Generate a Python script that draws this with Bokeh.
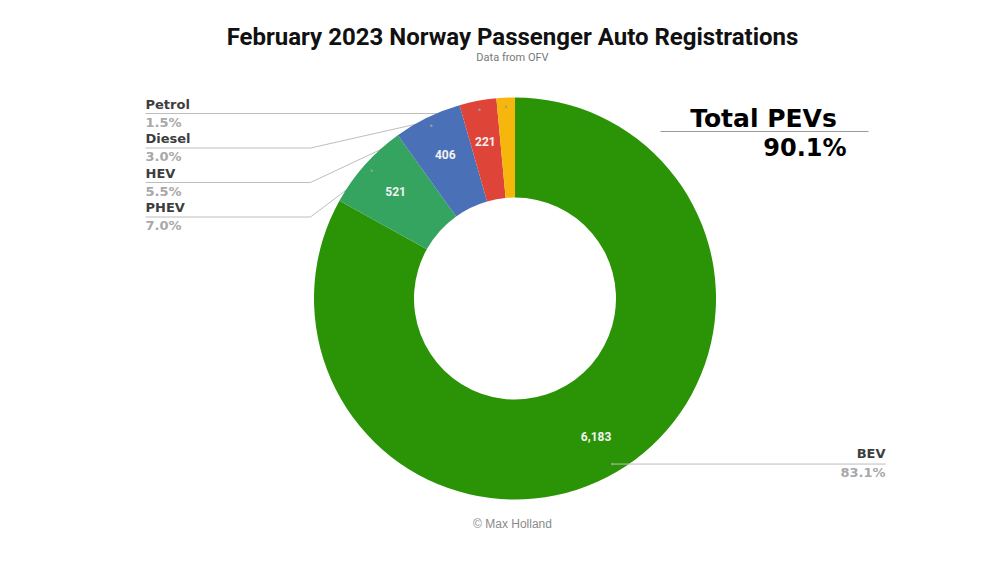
import numpy as np
from bokeh.plotting import figure
from bokeh.models import Range1d, ColumnDataSource, Label
from bokeh.embed import file_html
from bokeh.resources import INLINE
from bokeh.core.properties import value

# ---- data ----
categories = ["BEV", "PHEV", "HEV", "Diesel", "Petrol"]
counts = [6183, 521, 406, 221, 110]
colors = ["#2a9406", "#35a460", "#4a71b7", "#de4538", "#f7b60b"]
pct_labels = ["83.1%", "7.0%", "5.5%", "3.0%", "1.5%"]
inner_labels = ["6,183", "521", "406", "221", ""]
title = "February 2023 Norway Passenger Auto Registrations"
subtitle = "Data from OFV"
credit = "\u00a9 Max Holland"
total_title = "Total PEVs"
total_value = "90.1%"

# ---- layout (screen coords, y from top) ----
W, H = 984, 547
def Y(sy):
    return 563 - sy

p = figure(width=W, height=H, x_range=Range1d(0, 984), y_range=Range1d(16, 563),
           output_backend="svg", toolbar_location=None, min_border=0)
p.axis.visible = False
p.grid.visible = False
p.outline_line_color = None
p.background_fill_color = "white"

cx, cy = 514.5, Y(298)
r_out, r_in = 201, 101

vals = np.array(counts, dtype=float)
frac = vals / vals.sum()
cum = np.concatenate([[0], np.cumsum(frac)])
start = np.pi / 2 - 2 * np.pi * cum[:-1]
end = np.pi / 2 - 2 * np.pi * cum[1:]
mid = (start + end) / 2

# leader lines for small slices (drawn under wedges)
left_order = ["Petrol", "Diesel", "HEV", "PHEV"]
elbows = [440, 310, 310, 310]
r_dot = 192
dot_x = cx + r_dot * np.cos(mid)
dot_y = cy + r_dot * np.sin(mid)
xs_l, ys_l = [], []
for k, name in enumerate(left_order):
    j = categories.index(name)
    ly = Y(113 + 34.5 * k)
    xs_l.append([145, elbows[k], dot_x[j]])
    ys_l.append([ly, ly, dot_y[j]])
p.multi_line(xs_l, ys_l, line_color="#bdbdbd", line_width=1)

src = ColumnDataSource(dict(start=start, end=end, color=colors))
p.annular_wedge(x=cx, y=cy, inner_radius=r_in, outer_radius=r_out,
                start_angle="start", end_angle="end", direction="clock",
                fill_color="color", line_color=None, source=src)

# BEV leader line (to right)
b = categories.index("BEV")
p.line([dot_x[b], 885], [dot_y[b], dot_y[b]], line_color="#bdbdbd", line_width=1)
p.scatter(dot_x, dot_y, size=2.5, color="#9e9e9e", line_color=None)

# inner value labels
r_lab = 160
p.text(x=cx + r_lab * np.cos(mid), y=cy + r_lab * np.sin(mid), text=inner_labels,
       text_align="center", text_baseline="middle", text_color="#f2f2f2",
       text_font=value("Roboto"), text_font_size="12px", text_font_style="bold")

LF = "DejaVu Sans"
# left labels
for k, name in enumerate(left_order):
    j = categories.index(name)
    p.add_layout(Label(x=145, y=Y(104 + 34.3 * k), text=name, text_align="left",
                       text_baseline="middle", text_color="#3d3d3d",
                       text_font=LF, text_font_size="13px",
                       text_font_style="bold"))
    p.add_layout(Label(x=145, y=Y(122 + 34.3 * k), text=pct_labels[j], text_align="left",
                       text_baseline="middle", text_color="#a8a8a8",
                       text_font=LF, text_font_size="13px",
                       text_font_style="bold"))

# BEV label
p.add_layout(Label(x=885, y=Y(453), text=categories[b], text_align="right", text_baseline="middle",
                   text_color="#3d3d3d", text_font=LF, text_font_size="13px",
                   text_font_style="bold"))
p.add_layout(Label(x=885, y=Y(472), text=pct_labels[b], text_align="right", text_baseline="middle",
                   text_color="#a8a8a8", text_font=LF, text_font_size="13px",
                   text_font_style="bold"))

# Total PEVs box
p.add_layout(Label(x=763, y=Y(118), text=total_title, text_align="center", text_baseline="middle",
                   text_color="#000000", text_font=LF, text_font_size="25px",
                   text_font_style="bold"))
p.line([660, 868], [Y(131), Y(131)], line_color="#9a9a9a", line_width=1)
p.add_layout(Label(x=846, y=Y(147), text=total_value, text_align="right", text_baseline="middle",
                   text_color="#000000", text_font=LF, text_font_size="24px",
                   text_font_style="bold"))

# titles
p.add_layout(Label(x=512, y=Y(36), text=title, text_align="center", text_baseline="middle",
                   text_color="#111111", text_font="Roboto", text_font_size="24px",
                   text_font_style="bold"))
p.add_layout(Label(x=512, y=Y(57), text=subtitle, text_align="center", text_baseline="middle",
                   text_color="#777777", text_font="Roboto", text_font_size="11px"))
p.add_layout(Label(x=512, y=Y(523), text=credit, text_align="center", text_baseline="middle",
                   text_color="#8a8a8a", text_font="Liberation Sans", text_font_size="12px"))

open("out.html", "w").write(file_html(p, INLINE))
